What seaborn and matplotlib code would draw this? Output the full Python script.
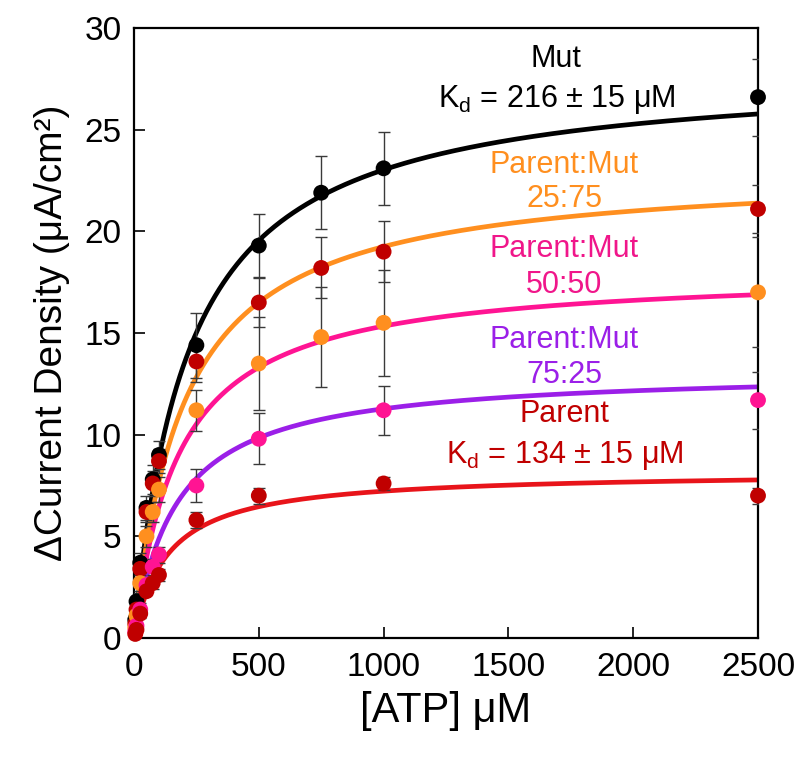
import numpy as np
import pandas as pd
import matplotlib
matplotlib.use("Agg")
import matplotlib.pyplot as plt
import seaborn as sns

# ---- data ----
series_names = ["Mut", "Parent:Mut 25:75", "Parent:Mut 50:50", "Parent:Mut 75:25", "Parent"]

x_full = [5, 10, 25, 50, 75, 100, 250, 500, 750, 1000, 2500]
x_part = [5, 10, 25, 50, 75, 100, 250, 500, 1000, 2500]

y_mut = [0.9, 1.8, 3.7, 6.4, 7.8, 9.0, 14.4, 19.3, 21.9, 23.1, 26.6]
e_mut = [0.3, 0.4, 0.5, 0.6, 0.7, 0.7, 1.6, 1.55, 1.8, 1.8, 1.9]

y_2575 = [0.7, 1.4, 3.4, 6.2, 7.6, 8.7, 13.6, 16.5, 18.2, 19.0, 21.1]
e_2575 = [0.3, 0.3, 0.4, 0.5, 0.6, 0.6, 1.0, 1.2, 1.5, 1.5, 1.2]

y_5050 = [0.5, 1.1, 2.7, 5.0, 6.2, 7.3, 11.2, 13.5, 14.8, 15.5, 17.0]
e_5050 = [0.2, 0.3, 0.4, 0.5, 0.5, 0.6, 1.0, 2.3, 2.45, 2.6, 2.7]

y_7525 = [0.3, 0.6, 1.4, 2.6, 3.5, 4.1, 7.5, 9.8, 11.2, 11.7]
e_7525 = [0.1, 0.2, 0.3, 0.3, 0.4, 0.4, 0.8, 1.25, 1.2, 1.4]

y_par = [0.2, 0.4, 1.2, 2.3, 2.7, 3.1, 5.8, 7.0, 7.6, 7.0]
e_par = [0.1, 0.1, 0.2, 0.2, 0.3, 0.3, 0.4, 0.4, 0.3, 0.4]

# hyperbolic fit parameters (Kd in uM, Bmax in uA/cm2)
fit_kd = [216, 200, 180, 170, 134]
fit_bmax = [28.0, 23.1, 18.1, 13.19, 8.19]

x_ticks = [0, 500, 1000, 1500, 2000, 2500]
y_ticks = [0, 5, 10, 15, 20, 25, 30]

# ---- style ----
sns.set_style("ticks")
plt.rcParams["font.family"] = ["Liberation Sans", "DejaVu Sans"]
plt.rcParams["mathtext.fontset"] = "custom"
plt.rcParams["mathtext.rm"] = "Liberation Sans"
plt.rcParams["mathtext.it"] = "Liberation Sans:italic"
for k in ["text.color", "axes.labelcolor", "xtick.color", "ytick.color"]:
    plt.rcParams[k] = "black"

curve_colors = ["#000000", "#FF8F1F", "#FF1493", "#9B1FE8", "#E8141A"]
point_colors = ["#000000", "#C00000", "#FF8F1F", "#FF1493", "#C00000"]

fig = plt.figure(figsize=(8.0, 7.57), dpi=100)
ax = fig.add_axes([0.1675, 0.1572, 0.78, 0.8058])

xs_list = [x_full, x_full, x_full, x_part, x_part]
ys_list = [y_mut, y_2575, y_5050, y_7525, y_par]
es_list = [e_mut, e_2575, e_5050, e_7525, e_par]

xc = np.linspace(0, 2500, 600)
for i in range(5):
    yc = fit_bmax[i] * xc / (fit_kd[i] + xc)
    sns.lineplot(x=xc, y=yc, ax=ax, color=curve_colors[i], lw=3.4, zorder=2)

for i in range(5):
    ax.errorbar(xs_list[i], ys_list[i], yerr=es_list[i], fmt="none",
                ecolor="#3a3a3a", elinewidth=1.0, capsize=4, capthick=1.0, zorder=3)

for i in range(5):
    df = pd.DataFrame({"x": xs_list[i], "y": ys_list[i]})
    sns.scatterplot(data=df, x="x", y="y", ax=ax, color=point_colors[i], s=130,
                    edgecolor="none", zorder=4 + i, clip_on=False)

ax.set_xlim(0, 2500)
ax.set_ylim(0, 30)
ax.set_xticks(x_ticks)
ax.set_yticks(y_ticks)
ax.tick_params(direction="in", length=8, width=1.2, labelsize=24, pad=9)
ax.tick_params(axis="x", pad=10)
for s in ax.spines.values():
    s.set_linewidth(1.6)
    s.set_color("black")

ax.set_xlabel("[ATP] μM", fontsize=30, labelpad=6)
ax.set_ylabel("ΔCurrent Density (μA/cm²)", fontsize=28, labelpad=10)

fs = 22
cx = 1724
ax.text(1692, 28.1, "Mut", color="black", fontsize=fs, ha="center", va="baseline")
ax.text(1692, 26.1, r"K$_{\mathrm{d}}$ = 216 ± 15 μM", color="black", fontsize=fs,
        ha="center", va="baseline")
ax.text(cx, 22.87, "Parent:Mut", color="#FF8F1F", fontsize=fs, ha="center", va="baseline")
ax.text(cx, 21.2, "25:75", color="#FF8F1F", fontsize=fs, ha="center", va="baseline")
ax.text(cx, 18.74, "Parent:Mut", color="#F0168A", fontsize=fs, ha="center", va="baseline")
ax.text(cx, 16.97, "50:50", color="#F0168A", fontsize=fs, ha="center", va="baseline")
ax.text(cx, 14.26, "Parent:Mut", color="#9B1FE8", fontsize=fs, ha="center", va="baseline")
ax.text(cx, 12.54, "75:25", color="#9B1FE8", fontsize=fs, ha="center", va="baseline")
ax.text(cx, 10.62, "Parent", color="#C00000", fontsize=fs, ha="center", va="baseline")
ax.text(cx, 8.61, r"K$_{\mathrm{d}}$ = 134 ± 15 μM", color="#C00000", fontsize=fs,
        ha="center", va="baseline")

fig.savefig("out.png", dpi=100)
